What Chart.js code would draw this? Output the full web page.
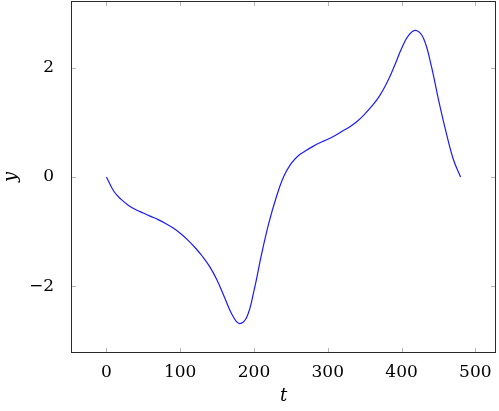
<!DOCTYPE html>
<html>
<head>
<meta charset="utf-8">
<script src="https://cdn.jsdelivr.net/npm/chart.js@4.4.1/dist/chart.umd.min.js"></script>
<style>
  html, body { margin: 0; padding: 0; background: #fff; }
  #wrap { width: 499px; height: 411px; position: relative; }
</style>
</head>
<body>
<div id="wrap"><canvas id="c" width="499" height="411"></canvas></div>
<script>
// ---- data ----
const tValues = [0, 10, 20, 30, 40, 50, 60, 70, 80, 90,
                 100, 110, 120, 130, 140, 150, 160, 170, 180, 190,
                 200, 210, 220, 230, 240, 250, 260, 270, 280, 290,
                 300, 310, 320, 330, 340, 350, 360, 370, 380, 390,
                 400, 410, 420, 430, 440, 450, 460, 470, 480];
const yValues = [0, -0.26, -0.41, -0.52, -0.60, -0.66, -0.72, -0.78, -0.85, -0.93,
                 -1.03, -1.15, -1.29, -1.45, -1.64, -1.89, -2.20, -2.51, -2.68, -2.57,
                 -2.08, -1.43, -0.85, -0.38, 0, 0.24, 0.39, 0.48, 0.56, 0.63,
                 0.69, 0.76, 0.84, 0.92, 1.02, 1.15, 1.30, 1.48, 1.72, 2.02,
                 2.35, 2.60, 2.68, 2.53, 2.05, 1.42, 0.84, 0.33, 0];
const xTicks = [0, 100, 200, 300, 400, 500];
const yTicks = [-2, 0, 2];
const xLimits = [-48, 528];
const yLimits = [-3.22, 3.22];
const xTitle = 't';
const yTitle = 'y';

const points = tValues.map((t, i) => ({ x: t, y: yValues[i] }));
const tickFont = { family: 'DejaVu Serif', size: 17 };

const frame = {
  id: 'frame',
  afterDraw(chart) {
    const { ctx, chartArea: a, scales } = chart;
    ctx.save();
    ctx.strokeStyle = '#b4b4b4';
    ctx.lineWidth = 1;
    const L = 5;
    xTicks.forEach(v => {
      const px = Math.round(scales.x.getPixelForValue(v)) + 0.5;
      ctx.beginPath();
      ctx.moveTo(px, a.bottom); ctx.lineTo(px, a.bottom - L);
      ctx.moveTo(px, a.top); ctx.lineTo(px, a.top + L);
      ctx.stroke();
    });
    yTicks.forEach(v => {
      const py = Math.round(scales.y.getPixelForValue(v)) + 0.5;
      ctx.beginPath();
      ctx.moveTo(a.left, py); ctx.lineTo(a.left + L, py);
      ctx.moveTo(a.right, py); ctx.lineTo(a.right - L, py);
      ctx.stroke();
    });
    ctx.strokeStyle = '#2a2a2a';
    ctx.strokeRect(Math.round(a.left) + 0.5, Math.round(a.top) + 0.5,
                   Math.round(a.right - a.left) - 1, Math.round(a.bottom - a.top) - 1);
    ctx.restore();
  }
};

new Chart(document.getElementById('c'), {
  type: 'line',
  data: {
    datasets: [{
      data: points,
      borderColor: '#1a1aff',
      borderWidth: 1.2,
      pointRadius: 0,
      tension: 0.4,
      fill: false
    }]
  },
  options: {
    responsive: false,
    animation: false,
    layout: { padding: { top: 1, right: 3, left: 0, bottom: 0 } },
    plugins: { legend: { display: false }, tooltip: { enabled: false } },
    scales: {
      x: {
        type: 'linear',
        min: xLimits[0], max: xLimits[1],
        grid: { display: false },
        border: { display: false },
        afterBuildTicks: s => { s.ticks = xTicks.map(v => ({ value: v })); },
        afterFit: s => { s.height = 58; s.paddingLeft = 0; s.paddingRight = 0; },
        ticks: { color: '#000', font: tickFont, padding: 1, maxRotation: 0,
                 callback: v => String(v) },
        title: { display: true, text: xTitle, color: '#000',
                 font: { family: 'DejaVu Serif', size: 18, style: 'italic' },
                 padding: { top: 0, bottom: 4 } }
      },
      y: {
        type: 'linear',
        min: yLimits[0], max: yLimits[1],
        grid: { display: false },
        border: { display: false },
        afterBuildTicks: s => { s.ticks = yTicks.map(v => ({ value: v })); },
        afterFit: s => { s.width = 71; s.paddingTop = 0; s.paddingBottom = 0; },
        ticks: { color: '#000', font: tickFont, padding: 9,
                 callback: v => (v < 0 ? '\u2212' + Math.abs(v) : String(v)) },
        title: { display: true, text: yTitle, color: '#000',
                 font: { family: 'DejaVu Serif', size: 18, style: 'italic' },
                 padding: { top: 1, bottom: 0 } }
      }
    }
  },
  plugins: [frame]
});
</script>
</body>
</html>
